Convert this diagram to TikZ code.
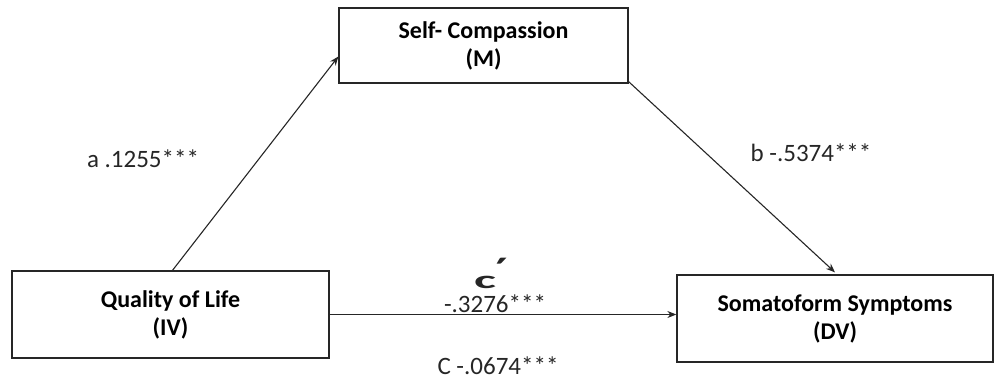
\documentclass[tikz,border=0pt]{standalone}
\usepackage{fontspec}
\setmainfont{Carlito}
\usetikzlibrary{arrows.meta}
\begin{document}
\begin{tikzpicture}[x=1pt,y=-1pt,
  box/.style={draw=black!85,line width=1.3pt,minimum width=#1,align=center,inner sep=0pt,
    font=\fontsize{24}{28}\selectfont\bfseries},
  lbl/.style={inner sep=0pt,font=\fontsize{25}{28}\selectfont,text=black!85},
  conn/.style={draw=black!85,line width=1.1pt,-{Stealth[length=9pt,width=7pt]}}]
\useasboundingbox (0,0) rectangle (995,381);
\node[box=289pt,minimum height=75pt] (M) at (483.5,45.5) {Self- Compassion\\(M)};
\node[box=317pt,minimum height=87pt] (IV) at (170.5,314.5) {Quality of Life\\(IV)};
\node[box=316pt,minimum height=87pt] (DV) at (835,318.5) {Somatoform Symptoms\\(DV)};
\draw[conn] ([xshift=2pt]IV.north) -- ([yshift=-11pt]M.west);
\draw[conn] ([yshift=2pt]M.south east) -- ([yshift=2pt]DV.north);
\draw[conn] (IV.east) -- (IV.east -| DV.west);
\node[lbl,anchor=base,text depth=0pt] (lcp) at (491,288) {\scalebox{2.1}[1]{\bfseries c}\kern-1pt\raisebox{1pt}{\scalebox{1.7}{\bfseries ´}}};
\node[lbl] (la) at (143,159) {a .1255***};
\node[lbl] (lb) at (811,153) {b -.5374***};
\node[lbl,text depth=0pt,text height=16pt,anchor=base] (lc1) at (495,312) {-.3276***};
\node[lbl] (lc) at (498,366) {C -.0674***};
\end{tikzpicture}
\end{document}
